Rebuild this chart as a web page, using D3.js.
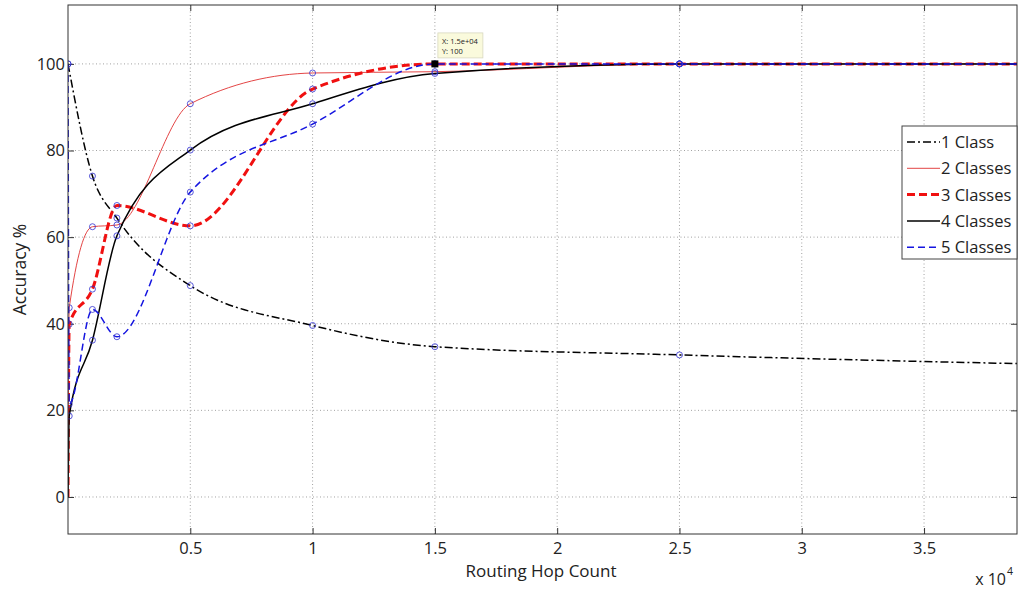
<!DOCTYPE html>
<html>
<head>
<meta charset="utf-8">
<script src="https://cdn.jsdelivr.net/npm/d3@7"></script>
<style>
  body { margin: 0; background: #fff; }
  text { font-family: "Open Sans", "Noto Sans", sans-serif; fill: #222; }
</style>
</head>
<body>
<div id="chart"></div>
<script>
// data (x in hop counts)
const hops = [0, 50, 1000, 2000, 5000, 10000, 15000, 25000, 50000];
const oneClass = [100, null, 74.1, 64.4, 48.8, 39.6, 34.7, 32.8, 29.5];
const twoClasses = [0, 43.7, 62.4, 62.8, 90.8, 97.9, 98.2, 100, 100];
const threeClasses = [0, 39.9, 48.0, 67.3, 62.6, 94.2, 100, 100, 100];
const fourClasses = [0, 18.7, 36.2, 60.3, 80.1, 90.8, 97.8, 100, 100];
const fiveClasses = [100, 21.4, 43.3, 37.0, 70.4, 86.1, 100, 100, 100];
const seriesNames = ['1 Class', '2 Classes', '3 Classes', '4 Classes', '5 Classes'];
const xTicks = [5000, 10000, 15000, 20000, 25000, 30000, 35000];
const xTickLabels = ['0.5', '1', '1.5', '2', '2.5', '3', '3.5'];
const yTicks = [0, 20, 40, 60, 80, 100];
const tip = { x: 15000, y: 100, label: ['X: 1.5e+04', 'Y: 100'] };

const width = 1019;
const height = 592;
const margin = { left: 68, right: 2, top: 5, bottom: 58 };

const x = d3.scaleLinear()
  .domain([0, 38800])
  .range([margin.left, width - margin.right]);

const y = d3.scaleLinear()
  .domain([-8.55, 113.6])
  .range([height - margin.bottom, margin.top]);

const svg = d3.select('#chart').append('svg')
  .attr('width', width)
  .attr('height', height);

const x0 = margin.left, x1 = width - margin.right;
const y0 = height - margin.bottom, y1 = margin.top;

// grid
const grid = svg.append('g')
  .attr('stroke', '#8a8a8a')
  .attr('stroke-width', 0.8)
  .attr('stroke-dasharray', '1,2.5');
grid.selectAll('.gx').data(xTicks).enter().append('line')
  .attr('x1', d => x(d)).attr('x2', d => x(d))
  .attr('y1', y0).attr('y2', y1);
grid.selectAll('.gy').data(yTicks).enter().append('line')
  .attr('x1', x0).attr('x2', x1)
  .attr('y1', d => y(d)).attr('y2', d => y(d));

// axes (ticks inside, like matlab)
const axisG = svg.append('g');
axisG.append('g')
  .attr('transform', `translate(0,${y0})`)
  .call(d3.axisBottom(x).tickValues(xTicks).tickSizeInner(-6).tickSizeOuter(0)
    .tickPadding(8).tickFormat((d, i) => xTickLabels[i]));
axisG.append('g')
  .attr('transform', `translate(0,${y1})`)
  .call(d3.axisTop(x).tickValues(xTicks).tickSizeInner(-6).tickSizeOuter(0).tickFormat(''));
axisG.append('g')
  .attr('transform', `translate(${x0},0)`)
  .call(d3.axisLeft(y).tickValues(yTicks).tickSizeInner(-6).tickSizeOuter(0).tickPadding(3));
axisG.append('g')
  .attr('transform', `translate(${x1},0)`)
  .call(d3.axisRight(y).tickValues(yTicks).tickSizeInner(-6).tickSizeOuter(0).tickFormat(''));
axisG.selectAll('.domain').remove();
axisG.selectAll('.tick line').attr('stroke', '#333');
axisG.selectAll('.tick text')
  .attr('font-size', 16.5)
  .style('font-family', '"Open Sans", "Noto Sans", sans-serif')
  .attr('fill', '#222');

// curves
const clip = svg.append('clipPath').attr('id', 'plot-clip')
  .append('rect').attr('x', x0).attr('y', y1).attr('width', x1 - x0).attr('height', y0 - y1);

const styles = [
  { color: '#000', width: 1.5, dash: '8,3,2,3' },
  { color: '#e03030', width: 0.9, dash: null },
  { color: '#f01010', width: 3, dash: '8,4' },
  { color: '#000', width: 1.5, dash: null },
  { color: '#1515e0', width: 1.5, dash: '7,4' }
];
const allSeries = [oneClass, twoClasses, threeClasses, fourClasses, fiveClasses];

const line = d3.line()
  .x(d => x(d[0]))
  .y(d => y(d[1]))
  .curve(d3.curveMonotoneX);

const plot = svg.append('g').attr('clip-path', 'url(#plot-clip)');

allSeries.forEach((vals, i) => {
  const pts = hops.map((h, j) => [h, vals[j]]).filter(p => p[1] != null);
  plot.append('path')
    .attr('d', line(pts))
    .attr('fill', 'none')
    .attr('stroke', styles[i].color)
    .attr('stroke-width', styles[i].width)
    .attr('stroke-dasharray', styles[i].dash);
});

// markers (blue circles); curve starts at 0 have no marker
allSeries.forEach(vals => {
  const pts = hops.map((h, j) => [h, vals[j]]).filter(p => p[1] != null && p[1] !== 0);
  plot.selectAll(null).data(pts).enter().append('circle')
    .attr('cx', d => x(d[0]))
    .attr('cy', d => y(d[1]))
    .attr('r', 3)
    .attr('fill', 'none')
    .attr('stroke', '#3030d0')
    .attr('stroke-width', 0.8);
});

// frame
svg.append('rect')
  .attr('x', x0).attr('y', y1)
  .attr('width', x1 - x0).attr('height', y0 - y1)
  .attr('fill', 'none')
  .attr('stroke', '#333')
  .attr('stroke-width', 1);

// data tip
const tipG = svg.append('g');
tipG.append('rect')
  .attr('x', x(tip.x) + 3).attr('y', y(tip.y) - 31)
  .attr('width', 45).attr('height', 25)
  .attr('fill', '#fafadc')
  .attr('stroke', '#d8d8c0')
  .attr('stroke-width', 0.8);
tipG.selectAll('text').data(tip.label).enter().append('text')
  .attr('x', x(tip.x) + 7)
  .attr('y', (d, i) => y(tip.y) - 20 + i * 10)
  .attr('font-size', 7.5)
  .text(d => d);
tipG.append('rect')
  .attr('x', x(tip.x) - 3.5).attr('y', y(tip.y) - 3.5)
  .attr('width', 7).attr('height', 7)
  .attr('fill', '#000');

// legend
const legend = svg.append('g');
legend.append('rect')
  .attr('x', 902).attr('y', 126)
  .attr('width', 115).attr('height', 133)
  .attr('fill', '#fff')
  .attr('stroke', '#444')
  .attr('stroke-width', 1);
seriesNames.forEach((name, i) => {
  const ly = 142 + i * 26.3;
  legend.append('line')
    .attr('x1', 907).attr('x2', 940)
    .attr('y1', ly).attr('y2', ly)
    .attr('stroke', styles[i].color)
    .attr('stroke-width', styles[i].width)
    .attr('stroke-dasharray', styles[i].dash);
  legend.append('text')
    .attr('x', 941).attr('y', ly + 6)
    .attr('font-size', 16.5)
    .text(name);
});

// labels
svg.append('text')
  .attr('x', 541).attr('y', 577)
  .attr('text-anchor', 'middle')
  .attr('font-size', 17)
  .text('Routing Hop Count');

svg.append('text')
  .attr('transform', `translate(26,${(y0 + y1) / 2}) rotate(-90)`)
  .attr('text-anchor', 'middle')
  .attr('font-size', 17.5)
  .text('Accuracy %');

svg.append('text')
  .attr('x', 1006).attr('y', 585)
  .attr('text-anchor', 'end')
  .attr('font-size', 16)
  .text('x 10');
svg.append('text')
  .attr('x', 1007).attr('y', 575)
  .attr('font-size', 10.5)
  .text('4');
</script>
</body>
</html>
